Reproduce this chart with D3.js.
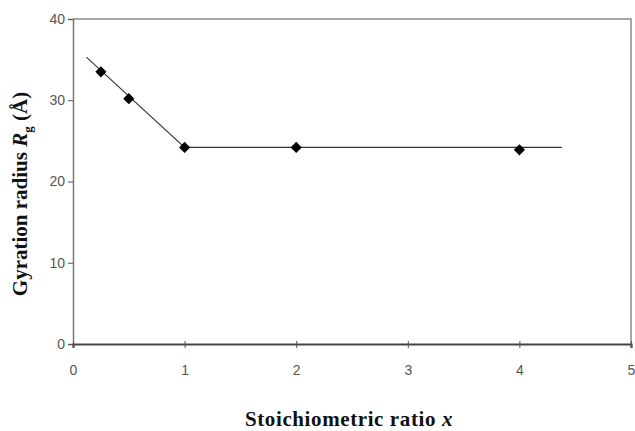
<!DOCTYPE html>
<html>
<head>
<meta charset="utf-8">
<script src="https://cdn.jsdelivr.net/npm/d3@7"></script>
<style>
  body { margin: 0; background: #fff; }
  svg { display: block; }
</style>
</head>
<body>
<svg id="chart" width="635" height="431"></svg>
<script>
// measured points
var ratioX = [0.25, 0.5, 1, 2, 4];
var radiusRg = [33.5, 30.2, 24.2, 24.2, 23.9];

// drawn guide line (two segments)
var fitX = [0.12, 1, 4.38];
var fitY = [35.3, 24.2, 24.2];

var xTicks = [0, 1, 2, 3, 4, 5];
var yTicks = [0, 10, 20, 30, 40];

var svg = d3.select("#chart");
var plotLeft = 73, plotRight = 631, plotTop = 19, plotBottom = 344;

var x = d3.scaleLinear().domain([0, 5]).range([plotLeft, plotRight]);
var y = d3.scaleLinear().domain([0, 40]).range([plotBottom, plotTop]);

// frame (top & right)
svg.append("path")
  .attr("d", "M" + plotLeft + "," + plotTop + "H" + plotRight + "V" + plotBottom)
  .attr("fill", "none")
  .attr("stroke", "#8a8a8a")
  .attr("stroke-width", 1.5);

// y axis
var yAxis = svg.append("g")
  .attr("transform", "translate(" + plotLeft + ",0)")
  .call(d3.axisLeft(y).tickValues(yTicks).tickFormat(d3.format("d")).tickSize(5).tickPadding(3));
yAxis.select(".domain").attr("stroke", "#777").attr("stroke-width", 1.5);
yAxis.selectAll(".tick line").attr("stroke", "#555");
yAxis.selectAll("text")
  .attr("font-family", "Liberation Sans, Arial, sans-serif")
  .attr("font-size", 14)
  .attr("fill", "#555");

// x axis
var xAxis = svg.append("g")
  .attr("transform", "translate(0," + plotBottom + ")")
  .call(d3.axisBottom(x).tickValues(xTicks).tickFormat(d3.format("d")).tickSize(4).tickPadding(17));
xAxis.select(".domain").attr("stroke", "#444").attr("stroke-width", 2.2);
xAxis.selectAll(".tick line").attr("stroke", "#555").attr("y1", -3);
xAxis.selectAll("text")
  .attr("font-family", "Liberation Sans, Arial, sans-serif")
  .attr("font-size", 14)
  .attr("fill", "#555");

// guide line
var line = d3.line()
  .x(function (d, i) { return x(fitX[i]); })
  .y(function (d, i) { return y(fitY[i]); });
svg.append("path")
  .datum(fitX)
  .attr("d", line)
  .attr("fill", "none")
  .attr("stroke", "#333")
  .attr("stroke-width", 1.1);

// diamond markers (square turned 45 degrees)
var diamond = d3.symbol().type(d3.symbolSquare).size(62);
svg.selectAll(".pt")
  .data(ratioX)
  .enter()
  .append("path")
  .attr("class", "pt")
  .attr("d", diamond)
  .attr("transform", function (d, i) {
    return "translate(" + x(d) + "," + y(radiusRg[i]) + ") rotate(45)";
  })
  .attr("fill", "#000");

// axis titles
var yTitle = svg.append("text")
  .attr("transform", "translate(27,194) rotate(-90)")
  .attr("text-anchor", "middle")
  .attr("font-family", "Liberation Serif, Times New Roman, serif")
  .attr("font-weight", "bold")
  .attr("font-size", 21)
  .attr("fill", "#111");
yTitle.append("tspan").text("Gyration radius ");
yTitle.append("tspan").attr("font-style", "italic").text("R");
yTitle.append("tspan").attr("font-size", 13).attr("dy", 5).text("g");
yTitle.append("tspan").attr("dy", -5).text(" (\u00C5)");

var xTitle = svg.append("text")
  .attr("x", 349)
  .attr("y", 426)
  .attr("text-anchor", "middle")
  .attr("font-family", "Liberation Serif, Times New Roman, serif")
  .attr("font-weight", "bold")
  .attr("font-size", 21)
  .attr("letter-spacing", 0.6)
  .attr("fill", "#111");
xTitle.append("tspan").text("Stoichiometric ratio ");
xTitle.append("tspan").attr("font-style", "italic").text("x");
</script>
</body>
</html>
